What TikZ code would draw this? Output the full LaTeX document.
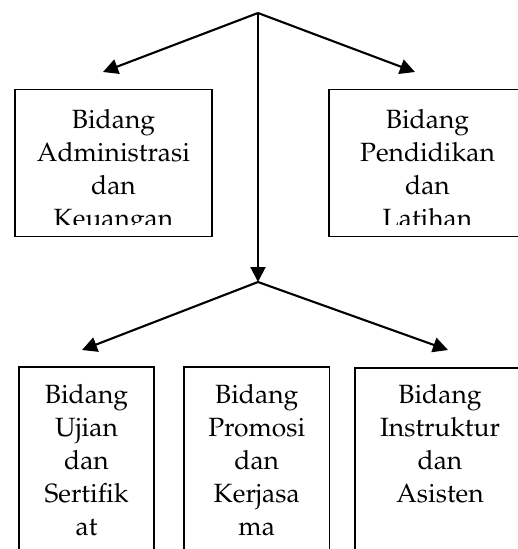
\documentclass[tikz,border=0pt]{standalone}
\usepackage[T1]{fontenc}
\usepackage{mathpazo}
\usetikzlibrary{arrows.meta}
\begin{document}
\begin{tikzpicture}[x=1pt,y=-1pt,
  box/.style={draw, line width=1.5pt, inner sep=0pt},
  lbl/.style={align=center, inner sep=0pt, anchor=north, font=\fontsize{26.4}{33}\selectfont},
  arr/.style={line width=2.1pt, -{Triangle[length=15pt,width=15pt]}}]
\useasboundingbox (0,0) rectangle (518,549);
\clip (0,0) rectangle (518,549);
% boxes
\node[box, minimum width=197pt, minimum height=147pt] (adm) at (113.5,163) {};
\node[box, minimum width=197pt, minimum height=147pt] (pen) at (427.5,163) {};
\node[box, minimum width=135pt, minimum height=233pt] (uji) at (86.5,483.5) {};
\node[box, minimum width=145.5pt, minimum height=233pt] (pro) at (256.75,483.5) {};
\node[box, minimum width=170pt, minimum height=232pt] (ins) at (440,484) {};
% texts
\begin{scope}
\clip (0,0) rectangle (518,224);
\node[lbl] (admt) at (113.5,109) {Bidang\\Administrasi\\dan\\Keuangan};
\node[lbl] (pent) at (427.5,109) {Bidang\\Pendidikan\\dan\\Latihan};
\end{scope}
\node[lbl] (ujit) at (86.5,384) {Bidang\\Ujian\\dan\\Sertifik\\at};
\node[lbl] (prot) at (256.75,384) {Bidang\\Promosi\\dan\\Kerjasa\\ma};
\node[lbl] (inst) at (440,384) {Bidang\\Instruktur\\dan\\Asisten};
% connectors
\coordinate (top) at (258,13);
\coordinate (mid) at (258,282);
\coordinate (t1) at (103,72);
\coordinate (t2) at (415,72);
\coordinate (b1) at (82,350);
\coordinate (b2) at (448,350);
\draw[arr] (top) -- (t1);
\draw[arr] (top) -- (t2);
\draw[arr] (top) -- (mid);
\draw[arr] (mid) -- (b1);
\draw[arr] (mid) -- (b2);
\end{tikzpicture}
\end{document}
